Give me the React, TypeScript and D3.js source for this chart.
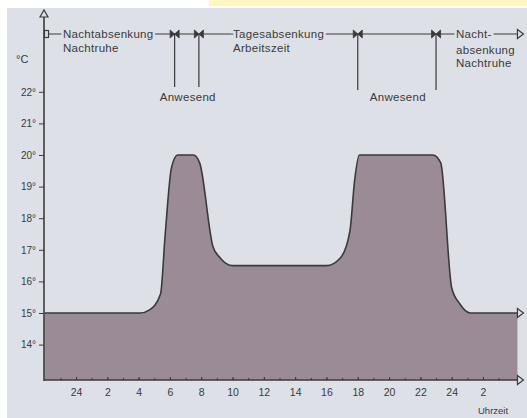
import React, { useEffect, useRef } from 'react';
import * as d3 from 'd3';

// hours since midnight (negative = previous evening)
const hours = [-2, 4.1, 4.7, 5.4, 5.7, 6.1, 6.5, 7.5, 7.9, 8.75, 9.2, 10.0, 16.0, 16.9, 17.5, 17.8, 18.1, 22.8, 23.3, 24.0, 24.5, 25.2, 28.2];
const temps = [15, 15, 15.1, 15.6, 17.5, 19.6, 20, 20, 19.75, 17.1, 16.75, 16.5, 16.5, 16.75, 17.6, 19.2, 20, 20, 19.75, 15.8, 15.3, 15, 15];

const yTicks = [14, 15, 16, 17, 18, 19, 20, 21, 22];
const xLabelTicks = [0, 2, 4, 6, 8, 10, 12, 14, 16, 18, 20, 22, 24, 26];
const xLabels = ['24', '2', '4', '6', '8', '10', '12', '14', '16', '18', '20', '22', '24', '2'];
const xMinorTicks = d3.range(-1, 28);

// presence periods (Anwesend)
const presenceStart = [6.3, 18.0];
const presenceEnd = [7.85, 23.0];

const BG = '#dde1e7';
const FILL = '#9b8b96';
const INK = '#3a3a3a';
const FONT = '"Liberation Sans", Arial, sans-serif';

const W = 527;
const H = 418;

const App: React.FC = () => {
  const xAxisRef = useRef<SVGGElement>(null);
  const xMinorRef = useRef<SVGGElement>(null);
  const yAxisRef = useRef<SVGGElement>(null);

  const x = d3.scaleLinear().domain([0, 26]).range([76, 483]);
  const y = d3.scaleLinear().domain([15, 20]).range([313, 155]);
  const baseY = 380;
  const axisX = 44;
  const xEnd = x(hours[hours.length - 1]);

  const pts: [number, number][] = hours.map((h, i) => [h, temps[i]]);
  const area = d3
    .area<[number, number]>()
    .x((d) => x(d[0]))
    .y0(baseY)
    .y1((d) => y(d[1]))
    .curve(d3.curveMonotoneX);
  const line = d3
    .line<[number, number]>()
    .x((d) => x(d[0]))
    .y((d) => y(d[1]))
    .curve(d3.curveMonotoneX);

  useEffect(() => {
    const xa = d3
      .axisBottom(x)
      .tickValues(xLabelTicks)
      .tickFormat((_d, i) => xLabels[i])
      .tickSizeInner(-3)
      .tickSizeOuter(0)
      .tickPadding(9);
    const gx = d3.select(xAxisRef.current!).call(xa);
    gx.select('.domain').remove();
    gx.selectAll('line').attr('stroke', INK);
    gx.selectAll('text').attr('fill', INK).style('font-family', FONT).style('font-size', '10.5px');

    const xm = d3.axisBottom(x).tickValues(xMinorTicks).tickFormat(() => '').tickSizeInner(-2).tickSizeOuter(0);
    const gm = d3.select(xMinorRef.current!).call(xm);
    gm.select('.domain').remove();
    gm.selectAll('line').attr('stroke', INK);

    const ya = d3
      .axisLeft(y)
      .tickValues(yTicks)
      .tickFormat((d) => `${d}°`)
      .tickSizeInner(5)
      .tickSizeOuter(0)
      .tickPadding(3);
    const gy = d3.select(yAxisRef.current!).call(ya);
    gy.select('.domain').remove();
    gy.selectAll('line').attr('stroke', INK);
    gy.selectAll('text').attr('fill', INK).style('font-family', FONT).style('font-size', '10px');
  }, []);

  const tlY = 34;
  const labelStyle = {
    fontFamily: FONT,
    fontSize: 11.5,
    letterSpacing: 0.3,
    fill: INK,
    stroke: BG,
    strokeWidth: 5,
    paintOrder: 'stroke' as const,
  };
  const plainStyle = { fontFamily: FONT, fontSize: 11.5, letterSpacing: 0.3, fill: INK };

  const bowtie = 'M-4.5,-4 L4.5,4 L4.5,-4 L-4.5,4 Z';

  return (
    <svg
      width={W}
      height={H}
      style={{ position: 'absolute', left: 0, top: 0, display: 'block' }}
    >
      <rect x={0} y={0} width={W} height={H} fill="#ffffff" />
      <rect x={209} y={0} width={W - 209} height={6} fill="#fff7c2" />
      <rect x={7} y={8} width={W - 7} height={H - 8} fill={BG} />

      {/* area + curve */}
      <path d={area(pts) ?? ''} fill={FILL} />
      <path d={line(pts) ?? ''} fill="none" stroke={INK} strokeWidth={1.6} />

      {/* x axis */}
      <line x1={axisX} x2={xEnd} y1={baseY} y2={baseY} stroke={INK} strokeWidth={1.6} />
      <g ref={xMinorRef} transform={`translate(0,${baseY})`} />
      <g ref={xAxisRef} transform={`translate(0,${baseY})`} />

      {/* y axis */}
      <line x1={axisX} x2={axisX} y1={baseY + 1} y2={17} stroke={INK} strokeWidth={1.6} />
      <path d={`M${axisX - 4},17 L${axisX},10 L${axisX + 4},17 Z`} fill={BG} stroke={INK} strokeWidth={1.2} />
      <g ref={yAxisRef} transform={`translate(${axisX},0)`} />
      <text x={16} y={63} style={{ fontFamily: FONT, fontSize: 11, fill: INK }}>°C</text>

      {/* end arrows */}
      {[y(temps[temps.length - 1]), baseY].map((ay, i) => (
        <path
          key={i}
          d={`M${xEnd},${ay - 4.5} L${xEnd + 6},${ay} L${xEnd},${ay + 4.5} Z`}
          fill={BG}
          stroke={INK}
          strokeWidth={1.2}
        />
      ))}

      {/* time line on top */}
      <line x1={48} x2={xEnd} y1={tlY} y2={tlY} stroke={INK} strokeWidth={1.2} />
      <rect x={44.5} y={tlY - 3.5} width={4} height={7} fill={BG} stroke={INK} strokeWidth={1.2} />
      <path
        d={`M${xEnd},${tlY - 4.5} L${xEnd + 6},${tlY} L${xEnd},${tlY + 4.5} Z`}
        fill={BG}
        stroke={INK}
        strokeWidth={1.2}
      />
      {presenceStart.map((s, i) => {
        const e = presenceEnd[i];
        const x1 = x(s);
        const x2 = x(e);
        const drop = i === 0 ? 87 : 90;
        return (
          <g key={i}>
            <line x1={x1} x2={x1} y1={tlY} y2={drop} stroke={INK} strokeWidth={1.2} />
            <line x1={x2} x2={x2} y1={tlY} y2={drop} stroke={INK} strokeWidth={1.2} />
            <path d={bowtie} transform={`translate(${x1},${tlY})`} fill={INK} stroke={INK} strokeWidth={0.8} />
            <path d={bowtie} transform={`translate(${x2},${tlY})`} fill={INK} stroke={INK} strokeWidth={0.8} />
            <text x={(x1 + x2) / 2 + 1} y={101} textAnchor="middle" style={plainStyle}>
              Anwesend
            </text>
          </g>
        );
      })}

      <text x={63} y={38} style={labelStyle}>Nachtabsenkung</text>
      <text x={63} y={52} style={plainStyle}>Nachtruhe</text>
      <text x={233} y={38} style={labelStyle}>Tagesabsenkung</text>
      <text x={233} y={52} style={plainStyle}>Arbeitszeit</text>
      <text x={456} y={38} style={labelStyle}>Nacht-</text>
      <text x={456} y={54} style={plainStyle}>absenkung</text>
      <text x={456} y={67} style={plainStyle}>Nachtruhe</text>

      <text x={478} y={414} style={{ fontFamily: FONT, fontSize: 9.5, fill: INK }}>Uhrzeit</text>
    </svg>
  );
};

export default App;
